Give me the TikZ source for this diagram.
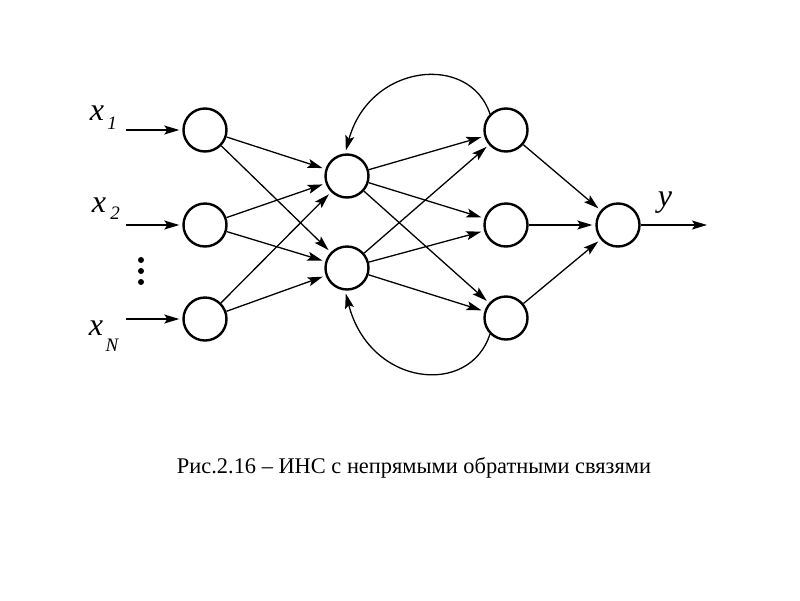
\documentclass[tikz,border=0pt]{standalone}
\usepackage{fontspec}
\setmainfont{Liberation Serif}
\usetikzlibrary{arrows.meta}
\begin{document}
\begin{tikzpicture}[x=1pt,y=-1pt,
  neuron/.style={circle,draw,line width=2.4pt,minimum size=43pt,inner sep=0pt},
  conn/.style={line width=1.3pt,-{Stealth[length=15pt,width=9pt,inset=3pt]},shorten >=3pt},
  lbl/.style={font=\itshape\fontsize{32}{32}\selectfont},
  sub/.style={font=\itshape\fontsize{19}{19}\selectfont},
  dotst/.style={circle,fill,inner sep=0pt,minimum size=6pt}]
\useasboundingbox (0,0) rectangle (800,600);
\node[neuron] (i1) at (205,130) {};
\node[neuron] (i2) at (205,225) {};
\node[neuron] (i3) at (205,319) {};
\node[neuron] (h1) at (347,176) {};
\node[neuron] (h2) at (347,268) {};
\node[neuron] (o1) at (506,130) {};
\node[neuron] (o2) at (506,225) {};
\node[neuron] (o3) at (506,318) {};
\node[neuron] (y) at (618,225) {};
\coordinate (s1) at (126,130);
\coordinate (s2) at (126,225);
\coordinate (s3) at (126,319);
\coordinate (ye) at (710,225);
\node[lbl] (x1) at (97,113) {x};
\node[sub] (x1s) at (112,123) {1};
\node[lbl] (x2) at (99,205) {x};
\node[sub] (x2s) at (115,213) {2};
\node[lbl] (x3) at (96,328) {x};
\node[sub] (x3s) at (112,345) {N};
\node[lbl] (yl) at (665,203) {y};
\node[dotst] (d1) at (141,260) {};
\node[dotst] (d2) at (141,271) {};
\node[dotst] (d3) at (141,282) {};
\draw[conn] (s1) -- (i1);
\draw[conn] (s2) -- (i2);
\draw[conn] (s3) -- (i3);
\foreach \a in {i1,i2,i3}{\foreach \b in {h1,h2}{\draw[conn] (\a) -- (\b);}}
\foreach \a in {h1,h2}{\foreach \b in {o1,o2,o3}{\draw[conn] (\a) -- (\b);}}
\foreach \a in {o1,o2,o3}{\draw[conn] (\a) -- (y);}
\draw[conn] (y) -- (ye);
\draw[conn] (o1.135) .. controls (470,53) and (370,63) .. (h1.95);
\draw[conn] (o3.225) .. controls (470,397) and (370,387) .. (h2.265);
\node[font=\fontsize{22.4}{22.4}\selectfont] (cap) at (414,468) {Рис.2.16 – ИНС с непрямыми обратными связями};
\end{tikzpicture}
\end{document}
